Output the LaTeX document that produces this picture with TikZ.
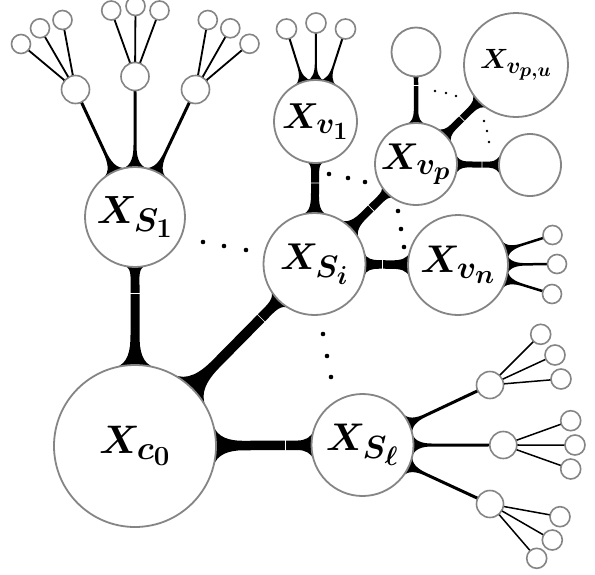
\documentclass[tikz,border=0pt]{standalone}
\usepackage{graphicx}
\usetikzlibrary{backgrounds}
\tikzset{
  circ/.style={circle, draw=black!48, line width=1.8pt, fill=white, inner sep=0pt, minimum size=#1},
  leaf/.style={circ=#1, line width=1.6pt},
  lab/.style={font=\Huge\boldmath},
  tickline/.style={white, line width=0.6pt},
  dotbig/.style={black},
}
\newcommand\lbl[2]{\scalebox{#1}{$#2$}}
% direction set-up between two named nodes
\newcommand\zzsetup[2]{%
  \pgfpointanchor{#1}{center}\pgfgetlastxy\zztx\zzty
  \pgfmathsetmacro\zzAx{\zztx}\pgfmathsetmacro\zzAy{\zzty}%
  \pgfpointanchor{#2}{center}\pgfgetlastxy\zztx\zzty
  \pgfmathsetmacro\zzBx{\zztx}\pgfmathsetmacro\zzBy{\zzty}%
  \pgfmathsetmacro\zzL{veclen(\zzBx-\zzAx,\zzBy-\zzAy)}%
  \pgfmathsetmacro\zzux{(\zzBx-\zzAx)/\zzL}%
  \pgfmathsetmacro\zzuy{(\zzBy-\zzAy)/\zzL}}
\newcommand\zzset[4]{%
  \pgfmathsetmacro#1{\zzAx+(#3)*\zzux-(#4)*\zzuy}%
  \pgfmathsetmacro#2{\zzAy+(#3)*\zzuy+(#4)*\zzux}}
% A, B, rA, rB, width, flare length at A, half spread at A, flare length at B, half spread at B
\newcommand\conn[9]{%
  \zzsetup{#1}{#2}%
  \pgfmathsetmacro\zzsa{#7/#3}\pgfmathsetmacro\zzca{sqrt(1-\zzsa*\zzsa)}%
  \pgfmathsetmacro\zzsb{#9/#4}\pgfmathsetmacro\zzcb{sqrt(1-\zzsb*\zzsb)}%
  \pgfmathsetmacro\zzh{#5/2}%
  \pgfmathsetmacro\zzaa{#3*\zzca}\pgfmathsetmacro\zzba{#7}%
  \pgfmathsetmacro\zzat{#3+#6}%
  \pgfmathsetmacro\zzda{0.3915*veclen(\zzat-\zzaa,\zzba-\zzh)}%
  \pgfmathsetmacro\zzac{\zzaa+\zzda*\zzsa}\pgfmathsetmacro\zzbc{\zzba-\zzda*\zzca}%
  \pgfmathsetmacro\zzatc{\zzat-\zzda}%
  \pgfmathsetmacro\zzbt{\zzL-#4-#8}%
  \pgfmathsetmacro\zzab{\zzL-#4*\zzcb}\pgfmathsetmacro\zzbb{#9}%
  \pgfmathsetmacro\zzdb{0.3915*veclen(\zzab-\zzbt,\zzbb-\zzh)}%
  \pgfmathsetmacro\zzbtc{\zzbt+\zzdb}%
  \pgfmathsetmacro\zzabc{\zzab-\zzdb*\zzsb}\pgfmathsetmacro\zzbbc{\zzbb-\zzdb*\zzcb}%
  \zzset\zzxa\zzya{\zzaa}{-\zzba}%
  \zzset\zzxb\zzyb{\zzac}{-\zzbc}%
  \zzset\zzxc\zzyc{\zzatc}{-\zzh}%
  \zzset\zzxd\zzyd{\zzat}{-\zzh}%
  \zzset\zzxe\zzye{\zzbt}{-\zzh}%
  \zzset\zzxf\zzyf{\zzbtc}{-\zzh}%
  \zzset\zzxg\zzyg{\zzabc}{-\zzbbc}%
  \zzset\zzxh\zzyh{\zzab}{-\zzbb}%
  \zzset\zzxi\zzyi{\zzab}{\zzbb}%
  \zzset\zzxj\zzyj{\zzabc}{\zzbbc}%
  \zzset\zzxk\zzyk{\zzbtc}{\zzh}%
  \zzset\zzxl\zzyl{\zzbt}{\zzh}%
  \zzset\zzxm\zzym{\zzat}{\zzh}%
  \zzset\zzxn\zzyn{\zzatc}{\zzh}%
  \zzset\zzxo\zzyo{\zzac}{\zzbc}%
  \zzset\zzxp\zzyp{\zzaa}{\zzba}%
  \fill[black] (#1.center) -- (\zzxa,\zzya)
    .. controls (\zzxb,\zzyb) and (\zzxc,\zzyc) .. (\zzxd,\zzyd)
    -- (\zzxe,\zzye)
    .. controls (\zzxf,\zzyf) and (\zzxg,\zzyg) .. (\zzxh,\zzyh)
    -- (#2.center) -- (\zzxi,\zzyi)
    .. controls (\zzxj,\zzyj) and (\zzxk,\zzyk) .. (\zzxl,\zzyl)
    -- (\zzxm,\zzym)
    .. controls (\zzxn,\zzyn) and (\zzxo,\zzyo) .. (\zzxp,\zzyp)
    -- cycle;}
% white seam across a connector: A, B, distance from A, width
\newcommand\seam[4]{%
  \zzsetup{#1}{#2}%
  \zzset\zzxa\zzya{#3}{-#4/2-0.6}%
  \zzset\zzxb\zzyb{#3}{#4/2+0.6}%
  \draw[tickline] (\zzxa,\zzya) -- (\zzxb,\zzyb);}
\begin{document}
\begin{tikzpicture}[x=1pt,y=1pt]
\useasboundingbox (0,0) rectangle (595,-574);
% main circles
\node[circ=162pt, lab] (c0) at (135,-446) {\lbl{1.6}{X_{c_0}}};
\node[circ=100pt, lab] (S1) at (135,-217) {\lbl{1.58}{X_{S_1}}};
\node[circ=102pt, lab] (Si) at (314.5,-264) {\lbl{1.5}{X_{S_i}}};
\node[circ=102pt, lab] (Sl) at (362.5,-445) {\lbl{1.55}{X_{S_\ell}}};
\node[circ=83pt, lab] (v1) at (315.5,-121.5) {\lbl{1.45}{X_{v_1}}};
\node[circ=82pt, lab] (vp) at (416,-164) {\lbl{1.5}{X_{v_p}}};
\node[circ=100pt, lab] (vn) at (458,-265) {\lbl{1.55}{X_{v_n}}};
\node[circ=104pt, lab] (vpu) at (516,-65) {\lbl{1.12}{X_{v_{p,u}}}};
\node[circ=49pt] (vpt) at (416,-52) {};
\node[circ=62pt] (vpr) at (530,-165) {};
% children of S1
\node[leaf=28pt] (a1) at (75.5,-89.5) {};
\node[leaf=28pt] (a2) at (135,-76.5) {};
\node[leaf=28pt] (a3) at (195.5,-89.5) {};
\node[leaf=19pt] (a1x) at (21,-44) {};
\node[leaf=19pt] (a1y) at (40,-28.3) {};
\node[leaf=19pt] (a1z) at (62.5,-20) {};
\node[leaf=19pt] (a2x) at (111.2,-10.5) {};
\node[leaf=19pt] (a2y) at (135.5,-6) {};
\node[leaf=19pt] (a2z) at (159.5,-10.5) {};
\node[leaf=19pt] (a3x) at (207.8,-20) {};
\node[leaf=19pt] (a3y) at (230.3,-28.3) {};
\node[leaf=19pt] (a3z) at (249.5,-43.8) {};
% leaves of v1
\node[leaf=20pt] (v1x) at (286.5,-29) {};
\node[leaf=20pt] (v1y) at (316,-23) {};
\node[leaf=20pt] (v1z) at (345.5,-29) {};
% leaves of vn
\node[leaf=19pt] (vnx) at (552.5,-235) {};
\node[leaf=19pt] (vny) at (557,-264) {};
\node[leaf=19pt] (vnz) at (552,-294) {};
% children of Sl
\node[leaf=27pt] (b1) at (490,-385) {};
\node[leaf=27pt] (b2) at (503.3,-445) {};
\node[leaf=27pt] (b3) at (490,-504) {};
\node[leaf=20pt] (b1x) at (540.7,-334.3) {};
\node[leaf=20pt] (b1y) at (555,-355) {};
\node[leaf=20pt] (b1z) at (561,-379) {};
\node[leaf=20pt] (b2x) at (570.7,-420.7) {};
\node[leaf=20pt] (b2y) at (575,-445) {};
\node[leaf=20pt] (b2z) at (570.7,-469) {};
\node[leaf=20pt] (b3x) at (560,-516.7) {};
\node[leaf=20pt] (b3y) at (552.3,-540) {};
\node[leaf=20pt] (b3z) at (536.7,-558.3) {};
% dots
\foreach \dx/\dy in {203/242,224/246,246/250,329/174,348/178,365/182,398/211,401/229,404/247,323/334,327/356,331/377}
  \fill[dotbig] (\dx,-\dy) circle (2.3pt);
\foreach \dx/\dy in {435/91,446/93,456/96,484/121,487/131,489/142}
  \fill[dotbig] (\dx,-\dy) circle (1.3pt);
\begin{pgfonlayer}{background}
\fill[white] (0,0) rectangle (595,-574);
\conn{c0}{S1}{81}{50}{9}{30}{20}{18}{11}
\conn{c0}{Si}{81}{51}{10}{35}{24}{20}{13}
\conn{c0}{Sl}{81}{51}{9.5}{27}{21}{14}{15}
\conn{S1}{a1}{50}{14}{3}{22}{13}{2}{2}
\conn{S1}{a2}{50}{14}{3}{22}{13}{2}{2}
\conn{S1}{a3}{50}{14}{3}{22}{13}{2}{2}
\foreach \a/\l in {a1/a1x,a1/a1y,a1/a1z,a2/a2x,a2/a2y,a2/a2z,a3/a3x,a3/a3y,a3/a3z}
  {\conn{\a}{\l}{14}{9.5}{1.8}{3}{2}{1}{1.2}}
\conn{Si}{v1}{51}{41.5}{8}{20}{13}{10}{9}
\conn{Si}{vp}{51}{41}{8}{18}{14}{10}{9}
\conn{Si}{vn}{51}{50}{8.5}{14}{12}{16}{13}
\foreach \l in {v1x,v1y,v1z}
  {\conn{v1}{\l}{41.5}{10}{2}{17}{10}{1}{1.3}}
\conn{vp}{vpt}{41}{24.5}{4.5}{12}{10}{6}{4}
\conn{vp}{vpu}{41}{52}{7}{12}{11}{12}{11}
\conn{vp}{vpr}{41}{31}{6}{10}{11}{10}{12}
\foreach \l in {vnx,vny,vnz}
  {\conn{vn}{\l}{50}{9.5}{2.5}{18}{11}{1}{1.5}}
\foreach \l in {b1,b2,b3}
  {\conn{Sl}{\l}{51}{13.5}{3}{18}{12}{2}{2}}
\foreach \a/\l in {b1/b1x,b1/b1y,b1/b1z,b2/b2x,b2/b2y,b2/b2z,b3/b3x,b3/b3y,b3/b3z}
  {\conn{\a}{\l}{13.5}{10}{1.5}{2}{1.5}{1}{1}}
\seam{S1}{c0}{76}{9}
\seam{Si}{c0}{76}{10}
\seam{Sl}{c0}{77}{9.5}
\seam{v1}{Si}{61.5}{8}
\seam{vp}{Si}{63}{8}
\seam{vpt}{vp}{33.5}{4.5}
\seam{vp}{vpu}{64.6}{7}
\seam{vp}{vpr}{66}{6}
\seam{Si}{vn}{68}{8.5}
\end{pgfonlayer}
\end{tikzpicture}
\end{document}
